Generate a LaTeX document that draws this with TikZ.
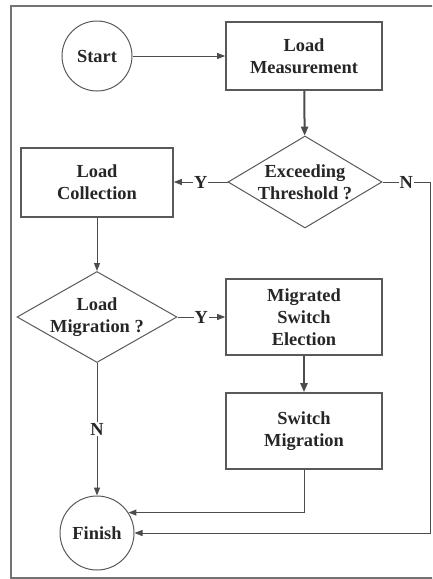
\documentclass[tikz,border=0pt]{standalone}
\usepackage{fontspec}
\setmainfont{Liberation Serif}
\usetikzlibrary{shapes.geometric,arrows.meta}
\begin{document}
\begin{tikzpicture}[x=1pt,y=-1pt,
  every node/.style={font=\fontsize{18.4}{22}\selectfont\bfseries, text=black!85},
  frame/.style={draw=black!55, line width=1.3pt},
  stepbox/.style={draw=black!65, line width=1.6pt, rectangle, minimum width=156pt, minimum height=68pt, inner sep=0pt, align=center},
  term/.style={draw=black!65, line width=1pt, circle, minimum size=70pt, inner sep=0pt},
  test/.style={draw=black!65, line width=1pt, diamond, inner sep=0pt, aspect=1.7},
  flow/.style={draw=black!70, line width=1pt, -{Triangle[length=8pt,width=6pt]}},
  heavy/.style={draw=black!70, line width=2pt, -{Triangle[length=9pt,width=7pt]}},
  lbl/.style={fill=white, inner sep=1pt},
  txt/.style={align=center, inner sep=0pt}]
\useasboundingbox (0,0) rectangle (432,579);
\begin{scope}
\clip (0,0) rectangle (432,579);
\draw[frame] (11,6) rectangle (445,578);
\end{scope}

% process steps and terminals
\node[term] (start) at (97,56) {Start};
\node[stepbox] (meas) at (304,56) {Load\\Measurement};
\node[stepbox, minimum width=152pt, minimum height=69pt] (coll) at (97,182.5) {Load\\Collection};
\node[stepbox, minimum height=76pt] (elect) at (304,317) {Migrated\\Switch\\Election};
\node[stepbox, minimum height=76pt] (swm) at (304,431) {Switch\\Migration};
\node[term, minimum size=74pt] (fin) at (97,533) {Finish};

% decisions: outline first, then the question inside
\node[test, minimum width=154pt, minimum height=92pt] (thr) at (305,182) {};
\node[txt] at (thr) {Exceeding\\Threshold ?};
\node[test, minimum width=160pt, minimum height=91pt] (mig) at (97,317) {};
\node[txt] at (mig) {Load\\Migration ?};

\coordinate (rt) at (430,182);
\coordinate (rb) at (430,533);

% connectors
\draw[flow] (start) -- (meas);
\draw[heavy] (meas) -- (thr);
\draw[flow] (thr.west) -- node[lbl]{Y} (coll.east |- thr.west);
\draw[flow] (thr.east) -- node[lbl]{N} (rt) -- (rb) -- (fin.east);
\draw[flow] (coll) -- (mig);
\draw[flow] (mig.east) -- node[lbl]{Y} (elect.west);
\draw[heavy] (elect) -- (swm);
\draw[flow] (mig.south) -- node[lbl]{N} (fin.north);
\draw[flow] (swm.south) |- (fin.33);
\end{tikzpicture}
\end{document}
